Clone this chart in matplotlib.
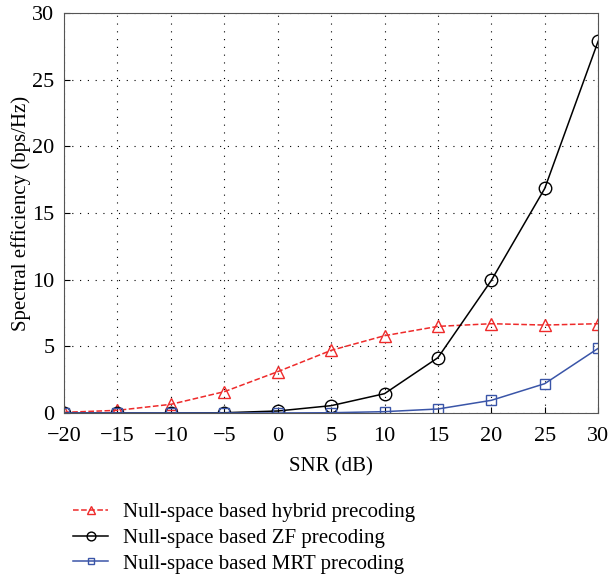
import matplotlib.pyplot as plt

snr = [-20, -15, -10, -5, 0, 5, 10, 15, 20, 25, 30]
hybrid = [0.05, 0.2, 0.65, 1.6, 3.1, 4.7, 5.8, 6.5, 6.7, 6.6, 6.7]
zf = [0.0, 0.0, 0.0, 0.02, 0.15, 0.55, 1.45, 4.15, 9.95, 16.85, 27.9]
mrt = [0.0, 0.0, 0.0, 0.0, 0.0, 0.02, 0.1, 0.3, 0.95, 2.2, 4.85]

plt.rcParams['font.family'] = ['Liberation Serif', 'DejaVu Serif']
plt.rcParams['font.size'] = 15

fig = plt.figure(figsize=(6.16, 5.76), dpi=100)
ax = fig.add_axes([0.104, 0.283, 0.867, 0.694])

ax.plot(snr, hybrid, '--', color='#ee2a2a', marker='^', markersize=9,
        markerfacecolor='none', lw=1.1, label='Null-space based hybrid precoding')
ax.plot(snr, zf, '-', color='black', marker='o', markersize=9,
        markerfacecolor='none', lw=1.1, label='Null-space based ZF precoding')
ax.plot(snr, mrt, '-', color='#3a55a8', marker='s', markersize=7,
        markerfacecolor='none', lw=1.1, label='Null-space based MRT precoding')

ax.set_xlim(-20, 30)
ax.set_ylim(0, 30)
ax.set_xticks(range(-20, 31, 5))
ax.set_yticks(range(0, 31, 5))
ax.set_xticklabels(['\u221220', '\u221215', '\u221210', '\u22125', '0', '5', '10', '15', '20', '25', '30'])
ax.tick_params(direction='in', length=4, top=False, right=False, labelsize=16)
ax.tick_params(axis='x', pad=10)
ax.tick_params(axis='y', pad=7)
ax.grid(True, linestyle=(0, (1, 6)), color='black', lw=0.8)
for s in ax.spines.values():
    s.set_color('#555555')
ax.set_xlabel('SNR (dB)', fontsize=15, labelpad=8)
ax.set_ylabel('Spectral efficiency (bps/Hz)', fontsize=15)
ax.yaxis.set_label_coords(-0.062, 0.5)

handles, labels = ax.get_legend_handles_labels()
leg = fig.legend(handles, labels, loc='upper left', bbox_to_anchor=(0.105, 0.142),
                 frameon=False, fontsize=15, handlelength=1.7, labelspacing=0.3,
                 handletextpad=0.7, borderaxespad=0, markerscale=0.7)

fig.savefig('out.png', dpi=100)
